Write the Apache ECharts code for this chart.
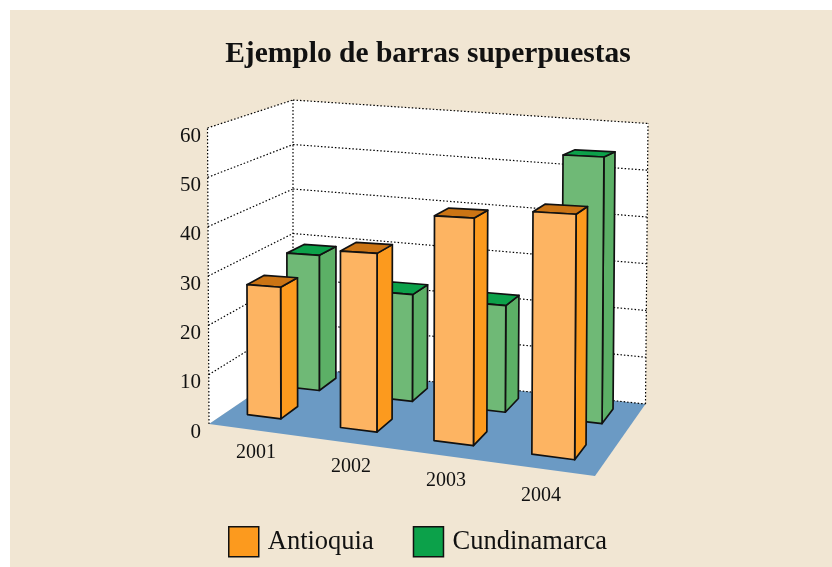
<!DOCTYPE html>
<html>
<head>
<meta charset="utf-8">
<style>
  html, body { margin: 0; padding: 0; background: #fff; }
  #chart { width: 832px; height: 567px; }
</style>
<script src="https://cdn.jsdelivr.net/npm/echarts@6/dist/echarts.min.js"></script>
</head>
<body>
<div id="chart"></div>
<script>
var years = ['2001', '2002', '2003', '2004']
var antioquia = [26.6, 34.8, 42.8, 44.7]
var cundinamarca = [28.8, 22.1, 21.5, 52.4]
var yTicks = [0, 10, 20, 30, 40, 50, 60]

var FONT = '"Liberation Serif", serif'
// the grid sits a little low so the tick labels hang under the wall lines
var gridBox = { left: 209, top: 136, width: 380, height: 296 }

// floor corners in pixels, front-left, front-right, back-right, back-left
var A = [209, 424], B = [595, 476], C = [645.5, 404], D = [293, 367]
// pixel height of the full axis above each corner
var HA = 296, HB = 340, HC = 280.5, HD = 267
// the bars stand a bit taller at the back right than the wall does
var HC_BARS = 290
// lean of the verticals at full height
var LA = -1.5, LB = 2, LC = 2.5, LD = 0
// small nudges of each category band on the floor
var bandShift = [-0.012, 0.012, 0.015, 0.009]

// floor homography from the unit square
function makeFloor () {
  var dx1 = B[0] - C[0], dy1 = B[1] - C[1]
  var dx2 = D[0] - C[0], dy2 = D[1] - C[1]
  var sx = A[0] - B[0] + C[0] - D[0], sy = A[1] - B[1] + C[1] - D[1]
  var det = dx1 * dy2 - dy1 * dx2
  var g = (sx * dy2 - sy * dx2) / det
  var h = (dx1 * sy - dy1 * sx) / det
  return function (u, v) {
    var w = 1 + g * u + h * v
    return [
      ((B[0] * (1 + g) - A[0]) * u + (D[0] * (1 + h) - A[0]) * v + A[0]) / w,
      ((B[1] * (1 + g) - A[1]) * u + (D[1] * (1 + h) - A[1]) * v + A[1]) / w
    ]
  }
}
var floor = makeFloor()

function mix (a, b, c, d, u, v) {
  return (1 - u) * (1 - v) * a + u * (1 - v) * b + u * v * c + (1 - u) * v * d
}

// u along the years, v into the picture, h 0..1 of the value axis
function project (u, v, h, hc) {
  var p = floor(u, v)
  return [
    p[0] + h * mix(LA, LB, LC, LD, u, v),
    p[1] - h * mix(HA, HB, hc || HC, HD, u, v)
  ]
}

function heightOf (api, value) {
  return (gridBox.top + gridBox.height - api.coord([0, value])[1]) / gridBox.height
}

// band centre of the category axis to the u of the floor
function uOf (api, i) {
  return (api.coord([i, 0])[0] - gridBox.left) / gridBox.width + bandShift[i]
}

function face (points, fill, stroke, width) {
  return {
    type: 'polygon',
    shape: { points: points },
    style: { fill: fill, stroke: stroke, lineWidth: width, lineJoin: 'round' }
  }
}

function dotted (a, b) {
  return {
    type: 'line',
    shape: { x1: a[0], y1: a[1], x2: b[0], y2: b[1] },
    style: { stroke: '#000', lineWidth: 1.2, lineDash: [1.5, 2], fill: null }
  }
}

function renderScene (params, api) {
  var kids = [
    face([project(0, 0, 0), project(0, 0, 1), project(0, 1, 1), project(0, 1, 0)], '#fff', null, 0),
    face([project(0, 1, 0), project(0, 1, 1), project(1, 1, 1), project(1, 1, 0)], '#fff', null, 0),
    face([project(0, 0, 0), project(1, 0, 0), project(1, 1, 0), project(0, 1, 0)], '#6b9ac4', null, 0)
  ]
  yTicks.forEach(function (t) {
    var h = heightOf(api, t)
    if (t > 0) kids.push(dotted(project(0, 0, h), project(0, 1, h)))
    kids.push(dotted(project(0, 1, h), project(1, 1, h)))
  })
  kids.push(dotted(project(0, 0, 0), project(0, 0, 1)))
  kids.push(dotted(project(0, 1, 0), project(0, 1, 1)))
  kids.push(dotted(project(1, 1, 0), project(1, 1, 1)))
  years.forEach(function (name, i) {
    var c = api.coord([i, 0])
    kids.push({
      type: 'text',
      style: {
        text: name,
        x: c[0] - 0.5,
        y: c[1] + 20.5 + i * 14.3,
        textAlign: 'center',
        textVerticalAlign: 'middle',
        font: '20px ' + FONT,
        fill: '#111'
      }
    })
  })
  return { type: 'group', children: kids }
}

function barRenderer (colors, vStart, vSlope, depth) {
  return function (params, api) {
    var i = api.value(0)
    var h = heightOf(api, api.value(1))
    var u = uOf(api, i)
    var uL = u - 0.05
    var uR = u + 0.05
    var vF = vStart + vSlope * u
    var vB = vF + depth
    var fl = project(uL, vF, 0, HC_BARS), fr = project(uR, vF, 0, HC_BARS), br = project(uR, vB, 0, HC_BARS)
    var tfl = project(uL, vF, h, HC_BARS), tfr = project(uR, vF, h, HC_BARS)
    var tbr = project(uR, vB, h, HC_BARS), tbl = project(uL, vB, h, HC_BARS)
    return {
      type: 'group',
      children: [
        face([fr, br, tbr, tfr], colors.side, '#111', 1.7),
        face([tfl, tfr, tbr, tbl], colors.top, '#111', 1.7),
        face([fl, fr, tfr, tfl], colors.front, '#111', 1.7)
      ]
    }
  }
}

var orange = { front: '#fdb462', side: '#fc9a1e', top: '#cb7414' }
var green = { front: '#6fb976', side: '#5cb066', top: '#0ca14a' }

var chart = echarts.init(document.getElementById('chart'))
chart.setOption({
  animation: false,
  backgroundColor: '#fff',
  graphic: [{
    type: 'rect',
    z: -10,
    shape: { x: 10, y: 10, width: 822, height: 557 },
    style: { fill: '#f1e6d3' }
  }],
  title: {
    text: 'Ejemplo de barras superpuestas',
    left: 423,
    top: 34,
    textAlign: 'center',
    textStyle: { fontFamily: FONT, fontSize: 29.5, fontWeight: 'bold', color: '#111' }
  },
  legend: {
    left: 223,
    top: 521,
    itemWidth: 30,
    itemHeight: 30,
    itemGap: 39,
    icon: 'rect',
    selectedMode: false,
    data: ['Antioquia', 'Cundinamarca'],
    itemStyle: { borderColor: '#111', borderWidth: 1.5 },
    textStyle: { fontFamily: FONT, fontSize: 26.5, color: '#111', padding: [0, 0, 0, 4] }
  },
  grid: gridBox,
  xAxis: {
    type: 'category',
    data: years,
    show: false
  },
  yAxis: {
    type: 'value',
    min: 0,
    max: 60,
    interval: 10,
    axisLine: { show: false },
    axisTick: { show: false },
    splitLine: { show: false },
    axisLabel: {
      margin: 8,
      fontFamily: FONT,
      fontSize: 21,
      color: '#111'
    }
  },
  series: [
    {
      name: 'escena',
      type: 'custom',
      silent: true,
      renderItem: renderScene,
      data: [[0, 0]]
    },
    {
      name: 'Cundinamarca',
      type: 'custom',
      itemStyle: { color: green.top },
      renderItem: barRenderer(green, 0.67, -0.015, 0.22),
      data: cundinamarca.map(function (v, i) { return [i, v] })
    },
    {
      name: 'Antioquia',
      type: 'custom',
      itemStyle: { color: orange.side },
      renderItem: barRenderer(orange, 0.2, -0.05, 0.2),
      data: antioquia.map(function (v, i) { return [i, v] })
    }
  ]
})
</script>
</body>
</html>
